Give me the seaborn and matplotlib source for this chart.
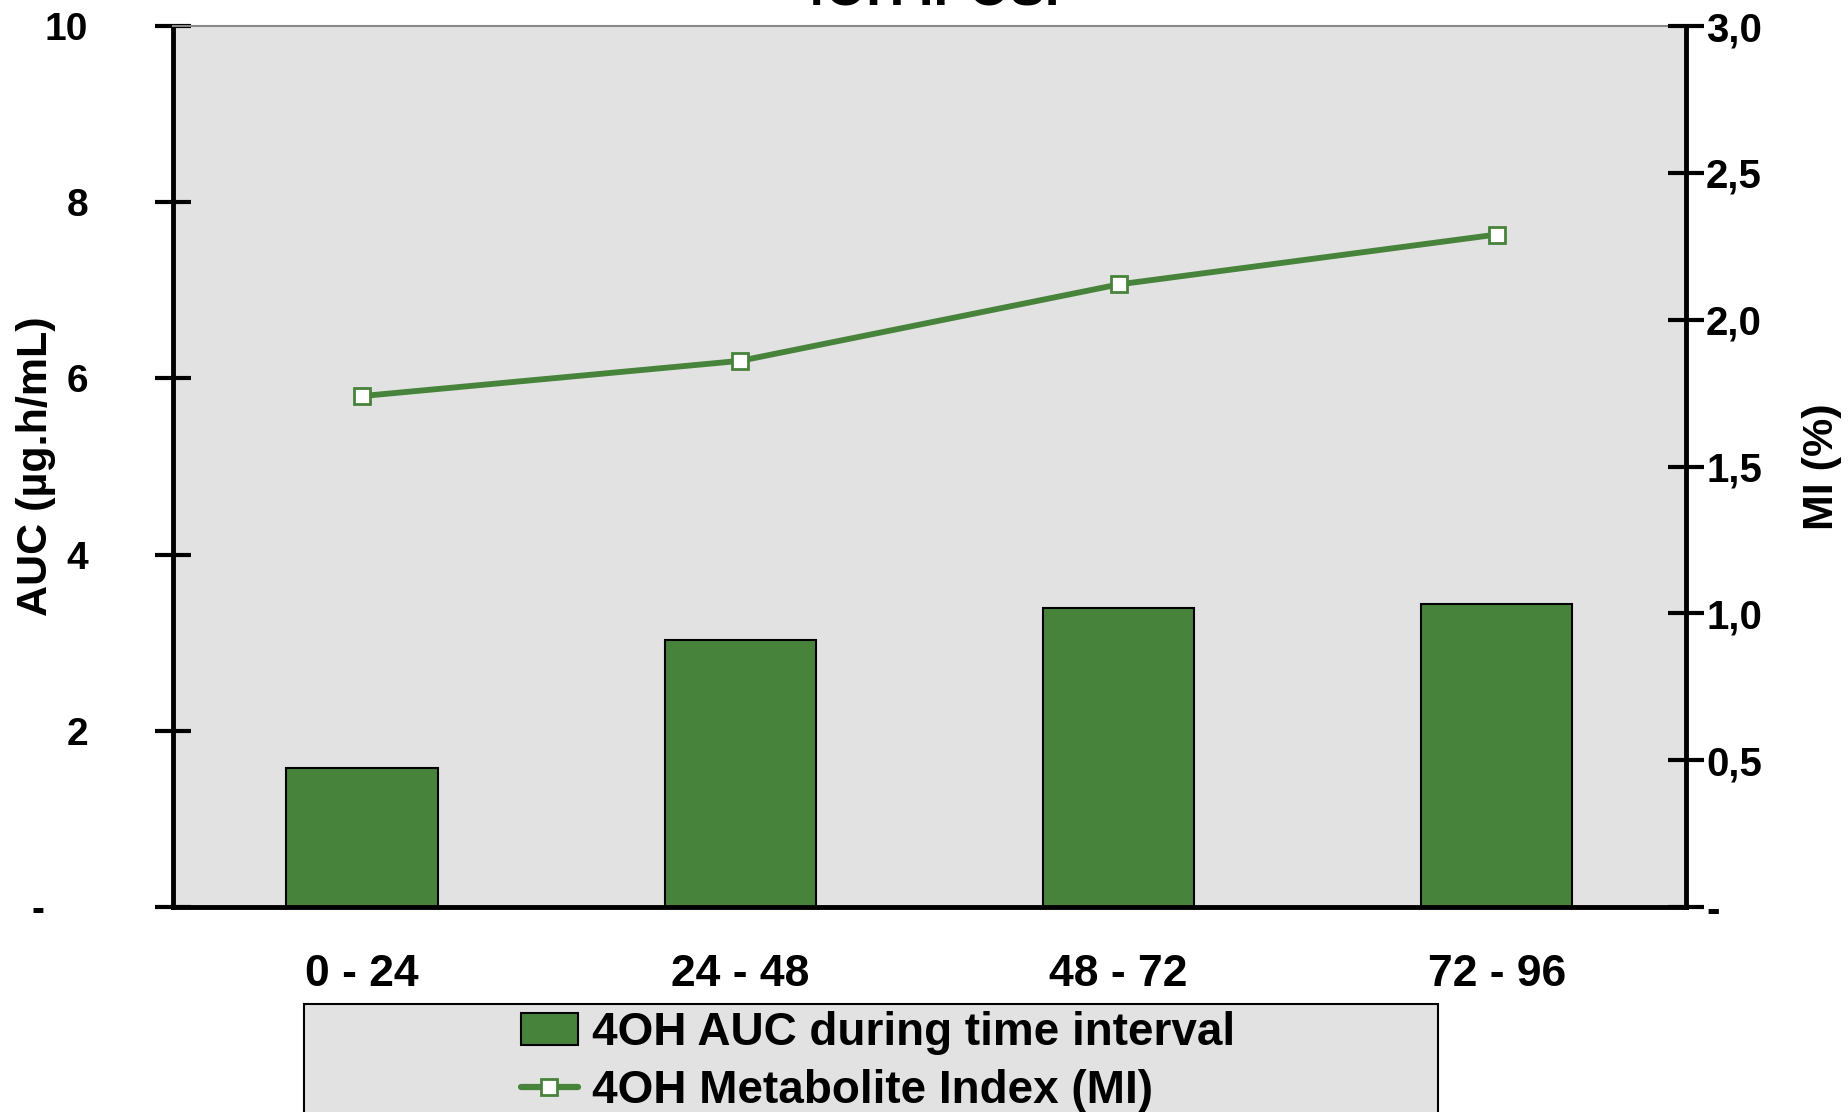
import pandas as pd
import matplotlib
matplotlib.use('Agg')
import matplotlib.pyplot as plt
import seaborn as sns
from matplotlib.patches import Patch, Rectangle
from matplotlib.lines import Line2D

# datos
intervalos = ['0 - 24', '24 - 48', '48 - 72', '72 - 96']
auc = [1.58, 3.03, 3.40, 3.44]
mi = [1.74, 1.86, 2.12, 2.29]
ticks_auc = [0, 2, 4, 6, 8, 10]
etiquetas_auc = ['-    ', '2', '4', '6', '8', '10']
ticks_mi = [0, 0.5, 1.0, 1.5, 2.0, 2.5, 3.0]
etiquetas_mi = ['-', '0,5', '1,0', '1,5', '2,0', '2,5', '3,0']

verde = '#47833a'
gris = '#e2e2e2'

sns.set_style('white')
plt.rcParams['font.family'] = ['Liberation Sans', 'DejaVu Sans']
plt.rcParams.update({'font.weight': 'bold', 'text.color': 'black', 'axes.labelcolor': 'black',
                     'xtick.color': 'black', 'ytick.color': 'black'})

df = pd.DataFrame({'Intervalo': intervalos, 'AUC': auc, 'MI': mi})

fig = plt.figure(figsize=(18.48, 11.12), dpi=100)
ax = fig.add_axes([0.0936, 0.1843, 0.8187, 0.7923])
ax.set_facecolor(gris)

sns.barplot(data=df, x='Intervalo', y='AUC', color=verde, width=0.4, saturation=1,
            edgecolor='black', linewidth=1.5, ax=ax)

ax2 = ax.twinx()
sns.pointplot(data=df, x='Intervalo', y='MI', color=verde, markers='s', errorbar=None,
              markersize=11, markerfacecolor='white', markeredgewidth=2, linewidth=4.2, ax=ax2)

for a in (ax, ax2):
    a.set_xlim(-0.5, 3.5)

# eje izquierdo
ax.set_ylim(0, 10)
ax.set_yticks(ticks_auc)
ax.set_yticklabels(etiquetas_auc)
ax.tick_params(axis='y', length=26, width=3, direction='inout', pad=48, labelsize=28)
ax.set_ylabel('AUC (µg.h/mL)', fontsize=31, fontweight='bold')
ax.yaxis.set_label_coords(-0.077, 0.5)

# eje x: etiquetas en el centro, marcas entre categorias
ax.set_xticks(range(len(intervalos)))
ax.set_xticklabels(intervalos)
ax.set_xticks([-0.5, 0.5, 1.5, 2.5, 3.5], minor=True)
ax.tick_params(axis='x', which='major', length=0, pad=34, labelsize=32)
ax.tick_params(axis='x', which='minor', length=24, width=3, direction='inout')
ax.set_xlabel('')

# eje derecho
ax2.set_ylim(0, 3)
ax2.set_yticks(ticks_mi)
ax2.set_yticklabels(etiquetas_mi)
ax2.tick_params(axis='y', length=26, width=3, direction='inout', pad=1.5, labelsize=29)
ax2.set_ylabel('MI (%)', fontsize=31, fontweight='bold', rotation=90)
ax2.yaxis.set_label_coords(1.077, 0.5)
ax2.set_xlabel('')

for s in ['left', 'bottom']:
    ax.spines[s].set_linewidth(3.5)
    ax.spines[s].set_color('black')
ax.spines['right'].set_visible(False)
ax.spines['top'].set_color('#888888')
ax.spines['top'].set_linewidth(1.5)
for s in ['left', 'bottom', 'top']:
    ax2.spines[s].set_visible(False)
ax2.spines['right'].set_linewidth(3.5)
ax2.spines['right'].set_color('black')

# titulo (cortado arriba en el original)
fig.text(0.502, 1 - 5 / 1112, '4OH IPOS.', ha='center', va='baseline', fontsize=38, fontweight='bold')

# leyenda con caja gris
fig.add_artist(Rectangle((304 / 1848, -0.02), (1438 - 304) / 1848, (1112 - 1004) / 1112 + 0.02,
                         transform=fig.transFigure, facecolor=gris, edgecolor='black', lw=1.5, zorder=0))
handles = [Patch(facecolor=verde, edgecolor='black', linewidth=1.5),
           Line2D([], [], color=verde, lw=4.5, marker='s', markerfacecolor='white', markersize=11, markeredgewidth=2)]
fig.legend(handles, ['4OH AUC during time interval', '4OH Metabolite Index (MI)'],
           loc='center', bbox_to_anchor=(0.475, 0.045), frameon=False, fontsize=33,
           handlelength=1.25, handletextpad=0.3, labelspacing=0.3, borderpad=0)

fig.savefig('out.png', dpi=100)
